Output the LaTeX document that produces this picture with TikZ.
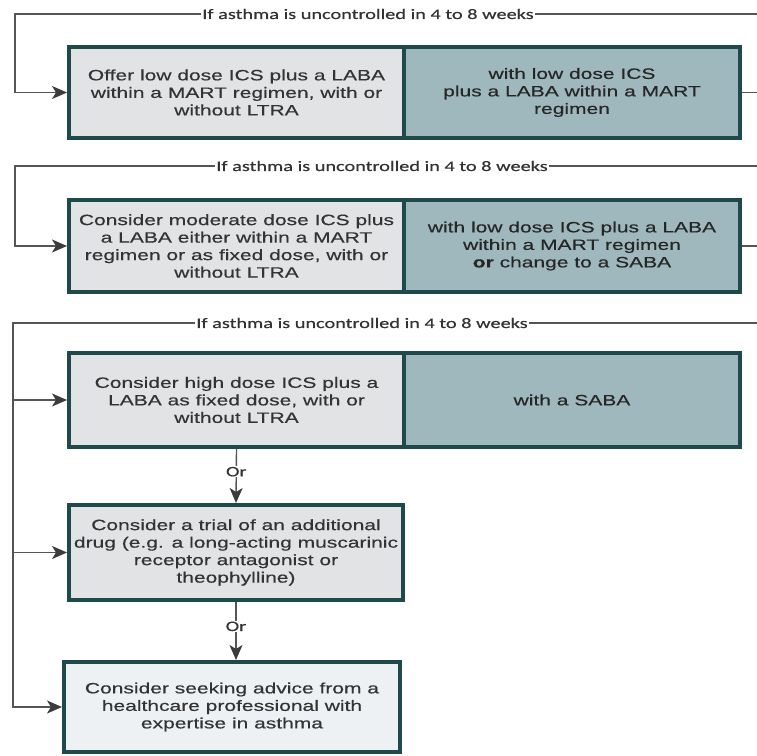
\documentclass[tikz,border=0pt]{standalone}
\usepackage{fontspec}
\usetikzlibrary{arrows.meta}
\newfontfamily\boxfont{Liberation Sans}[FakeStretch=1.4,FakeBold=0.4]
\newfontfamily\notefont{Carlito}[FakeStretch=1.4,FakeBold=0.5]
\definecolor{rim}{HTML}{1E4A4C}
\definecolor{boxgray}{HTML}{E1E3E5}
\definecolor{boxlight}{HTML}{EEF1F3}
\definecolor{boxteal}{HTML}{9FB8BD}
\definecolor{linegray}{HTML}{555555}
\definecolor{tipgray}{HTML}{3C3C3C}
\definecolor{textgray}{HTML}{333333}
\tikzset{
  box/.style={draw=rim, line width=4pt, inner sep=0pt, align=center,
    font=\boxfont\fontsize{15}{17.5}\selectfont, text=textgray},
  leftbox/.style={box, fill=boxgray},
  rightbox/.style={box, fill=boxteal, text=black!85},
  flow/.style={draw=linegray, line width=1.4pt},
  arrowflow/.style={flow, -{Stealth[length=15pt,width=13pt,inset=4pt,color=tipgray]}},
  note/.style={font=\notefont\fontsize{14.5}{16}\selectfont, fill=white,
    inner sep=1pt, text=textgray}
}
\begin{document}
\begin{tikzpicture}[x=1pt,y=-1pt]
\useasboundingbox[fill=white] (0,0) rectangle (757,755);

% step 1
\node[leftbox, minimum width=335pt, minimum height=91pt] (b1l) at (236.5,92.5)
  {Offer low dose ICS plus a LABA\\within a MART regimen, with or\\without LTRA};
\node[rightbox, minimum width=336pt, minimum height=91pt] (b1r) at (572,92.5)
  {with low dose ICS\\plus a LABA within a MART\\regimen};

% step 2
\node[leftbox, minimum width=335pt, minimum height=92pt] (b2l) at (236.5,246)
  {Consider moderate dose ICS plus\\a LABA either within a MART\\regimen or as fixed dose, with or\\without LTRA};
\node[rightbox, minimum width=336pt, minimum height=92pt] (b2r) at (572,246)
  {with low dose ICS plus a LABA\\within a MART regimen\\\textbf{or} change to a SABA};

% step 3
\node[leftbox, minimum width=335pt, minimum height=94pt] (b3l) at (236.5,400)
  {Consider high dose ICS plus a\\LABA as fixed dose, with or\\without LTRA};
\node[rightbox, minimum width=336pt, minimum height=94pt] (b3r) at (572,400)
  {with a SABA};

% alternatives
\node[leftbox, minimum width=334pt, minimum height=95pt] (b4) at (236,552.5)
  {Consider a trial of an additional\\drug (e.g. a long-acting muscarinic\\receptor antagonist or\\theophylline)};
\node[box, fill=boxlight, minimum width=336pt, minimum height=90pt] (b5) at (232,707)
  {Consider seeking advice from a\\healthcare professional with\\expertise in asthma};

% review labels
\node[note] (n1) at (368,14) {If asthma is uncontrolled in 4 to 8 weeks};
\node[note] (n2) at (382,166) {If asthma is uncontrolled in 4 to 8 weeks};
\node[note] (n3) at (362,323) {If asthma is uncontrolled in 4 to 8 weeks};

\coordinate (e1) at (757,14);
\coordinate (e2) at (757,166);
\coordinate (e3) at (757,323);
\coordinate (o1) at (757,92.5);
\coordinate (o2) at (757,246);
\coordinate (k1) at (15,14);
\coordinate (k2) at (15,166);
\coordinate (k3) at (13,323);

% loop back into step 1
\draw[flow] (e1) -- (n1.east);
\draw[arrowflow] (n1.west) -- (k1) |- (b1l.west);
\draw[flow] (b1r.east) -- (o1);

% loop back into step 2
\draw[flow] (e2) -- (n2.east);
\draw[arrowflow] (n2.west) -- (k2) |- (b2l.west);
\draw[flow] (b2r.east) -- (o2);

% loop back into step 3 and the alternatives
\draw[flow] (e3) -- (n3.east);
\draw[arrowflow] (n3.west) -- (k3) |- (b3l.west);
\draw[arrowflow] (k3) |- (b4.west);
\draw[arrowflow] (k3) |- (b5.west);

% "Or" links
\draw[arrowflow] (b3l.south) -- node[note, pos=0.42] {Or} (b4.north);
\draw[arrowflow] (b4.south) -- node[note, pos=0.42] {Or} (b4.south |- b5.north);
\end{tikzpicture}
\end{document}
